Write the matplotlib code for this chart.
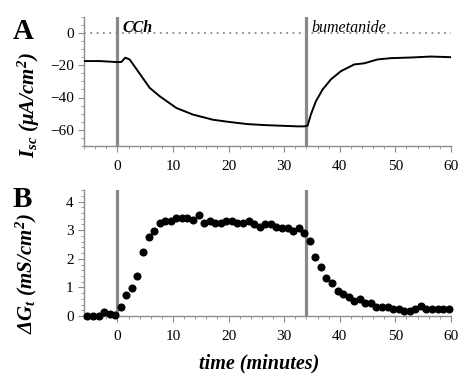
import numpy as np
import matplotlib
matplotlib.use("Agg")
import matplotlib.pyplot as plt
from matplotlib.ticker import MultipleLocator

plt.rcParams['font.family'] = ['Liberation Serif', 'DejaVu Serif']
plt.rcParams['mathtext.fontset'] = 'custom'
plt.rcParams['mathtext.rm'] = 'Liberation Serif:style=italic:weight=bold'
plt.rcParams['mathtext.it'] = 'Liberation Serif:style=italic:weight=bold'
plt.rcParams['mathtext.bf'] = 'Liberation Serif:style=italic:weight=bold'

# --- panel A: short-circuit current trace ---
isc_time = [-6, -3.2, -0.2, 0.7, 1.4, 2.2, 3.9, 5.8, 7.6, 10.6, 13.6, 17.2, 20.2,
            23.4, 26.4, 29.4, 32.4, 33.6, 34.2, 34.8, 35.7, 36.9, 38.4, 40.2,
            42.6, 44.4, 46.8, 49.2, 52.8, 56.4, 60]
isc_value = [-17.4, -17.4, -18.0, -18.0, -15.3, -16.4, -24.7, -34.0, -39.2, -46.5,
             -50.6, -53.8, -55.2, -56.5, -57.1, -57.5, -57.9, -57.9, -57.5, -50.6,
             -42.4, -35.1, -28.8, -23.7, -19.5, -18.8, -16.4, -15.6, -15.2, -14.6,
             -15.0]

# --- panel B: conductance change, one point per minute ---
gt_time = [-5.4, -4.4, -3.4, -2.4, -1.4, -0.4,
           0.6, 1.6, 2.6, 3.6, 4.6, 5.6, 6.6, 7.6, 8.6, 9.6, 10.6, 11.6, 12.6, 13.6, 14.6,
           15.6, 16.6, 17.6, 18.6, 19.6, 20.6, 21.6, 22.6, 23.6, 24.6, 25.6, 26.6, 27.6,
           28.6, 29.6, 30.6, 31.6, 32.6, 33.6,
           34.6, 35.6, 36.6, 37.6, 38.6, 39.6, 40.6, 41.6, 42.6, 43.6, 44.6, 45.6, 46.6,
           47.6, 48.6, 49.6, 50.6, 51.6, 52.6, 53.6, 54.6, 55.6, 56.6, 57.6, 58.6, 59.6]
gt_value = [0.0, 0.0, 0.0, 0.15, 0.09, 0.03,
            0.33, 0.73, 0.99, 1.40, 2.25, 2.77, 2.99, 3.24, 3.31, 3.31, 3.44, 3.44, 3.44,
            3.37, 3.53,
            3.26, 3.32, 3.26, 3.26, 3.32, 3.32, 3.25, 3.25, 3.33, 3.20, 3.11, 3.20, 3.20,
            3.11, 3.06, 3.06, 2.99, 3.07, 2.91,
            2.64, 2.05, 1.72, 1.33, 1.14, 0.87, 0.79, 0.67, 0.52, 0.61, 0.46, 0.46, 0.32,
            0.32, 0.32, 0.26, 0.26, 0.19, 0.19, 0.26, 0.35, 0.26, 0.26, 0.26, 0.26, 0.26]

drug_times = [0, 34]
drug_names = ["CCh", "bumetanide"]

fig = plt.figure(figsize=(4.62, 3.75), dpi=100)
axA = fig.add_axes([0.182, 0.611, 0.794, 0.344])
axB = fig.add_axes([0.182, 0.157, 0.794, 0.336])

spine_col = '#8c8c8c'
for ax in (axA, axB):
    ax.spines['top'].set_visible(False)
    ax.spines['right'].set_visible(False)
    for s in ('left', 'bottom'):
        ax.spines[s].set_color(spine_col)
        ax.spines[s].set_linewidth(1.0)
    ax.set_xlim(-6, 60)
    ax.xaxis.set_major_locator(MultipleLocator(10))
    ax.xaxis.set_minor_locator(MultipleLocator(2))
    ax.tick_params(which='both', colors=spine_col, labelcolor='black', labelsize=11)
    ax.tick_params(which='major', length=4, direction='out')
    ax.tick_params(which='minor', length=2.5, direction='out')
    ax.tick_params(axis='x', pad=6)
    for t in drug_times:
        ax.axvline(t, color='#888888', lw=2.3, zorder=1)

# panel A
axA.plot(isc_time, isc_value, color='black', lw=1.4, zorder=3)
axA.axhline(0, color='#888888', lw=1.3, ls=(0, (1, 2.5)), zorder=1)
axA.set_ylim(-70, 10)
axA.yaxis.set_major_locator(MultipleLocator(20))
axA.yaxis.set_minor_locator(MultipleLocator(5))
axA.set_yticks([0, -20, -40, -60])
axA.text(0.9, 8, drug_names[0], fontsize=11.5, fontweight='bold', style='italic',
         va='top', ha='left')
axA.text(34.9, 8, drug_names[1], fontsize=11.5, style='italic', va='top', ha='left')

# panel B
axB.plot(gt_time, gt_value, 'o', color='black', ms=4.8, clip_on=False, zorder=3)
axB.set_ylim(0, 4.4)
axB.yaxis.set_major_locator(MultipleLocator(1))
axB.yaxis.set_minor_locator(MultipleLocator(0.2))

# labels
fig.text(0.028, 0.915, 'A', fontsize=21, fontweight='bold', ha='left', va='center')
fig.text(0.028, 0.469, 'B', fontsize=21, fontweight='bold', ha='left', va='center')
fig.text(0.063, 0.72, r'$I_{sc}$ $(\mu A/cm^2)$', rotation=90, fontsize=15,
         ha='center', va='center')
fig.text(0.058, 0.27, r'$\Delta G_t$ $(mS/cm^2)$', rotation=90, fontsize=15,
         ha='center', va='center')
fig.text(0.562, 0.004, 'time (minutes)', fontsize=14.5, fontweight='bold',
         style='italic', ha='center', va='bottom')

fig.savefig("out.png", dpi=100)
